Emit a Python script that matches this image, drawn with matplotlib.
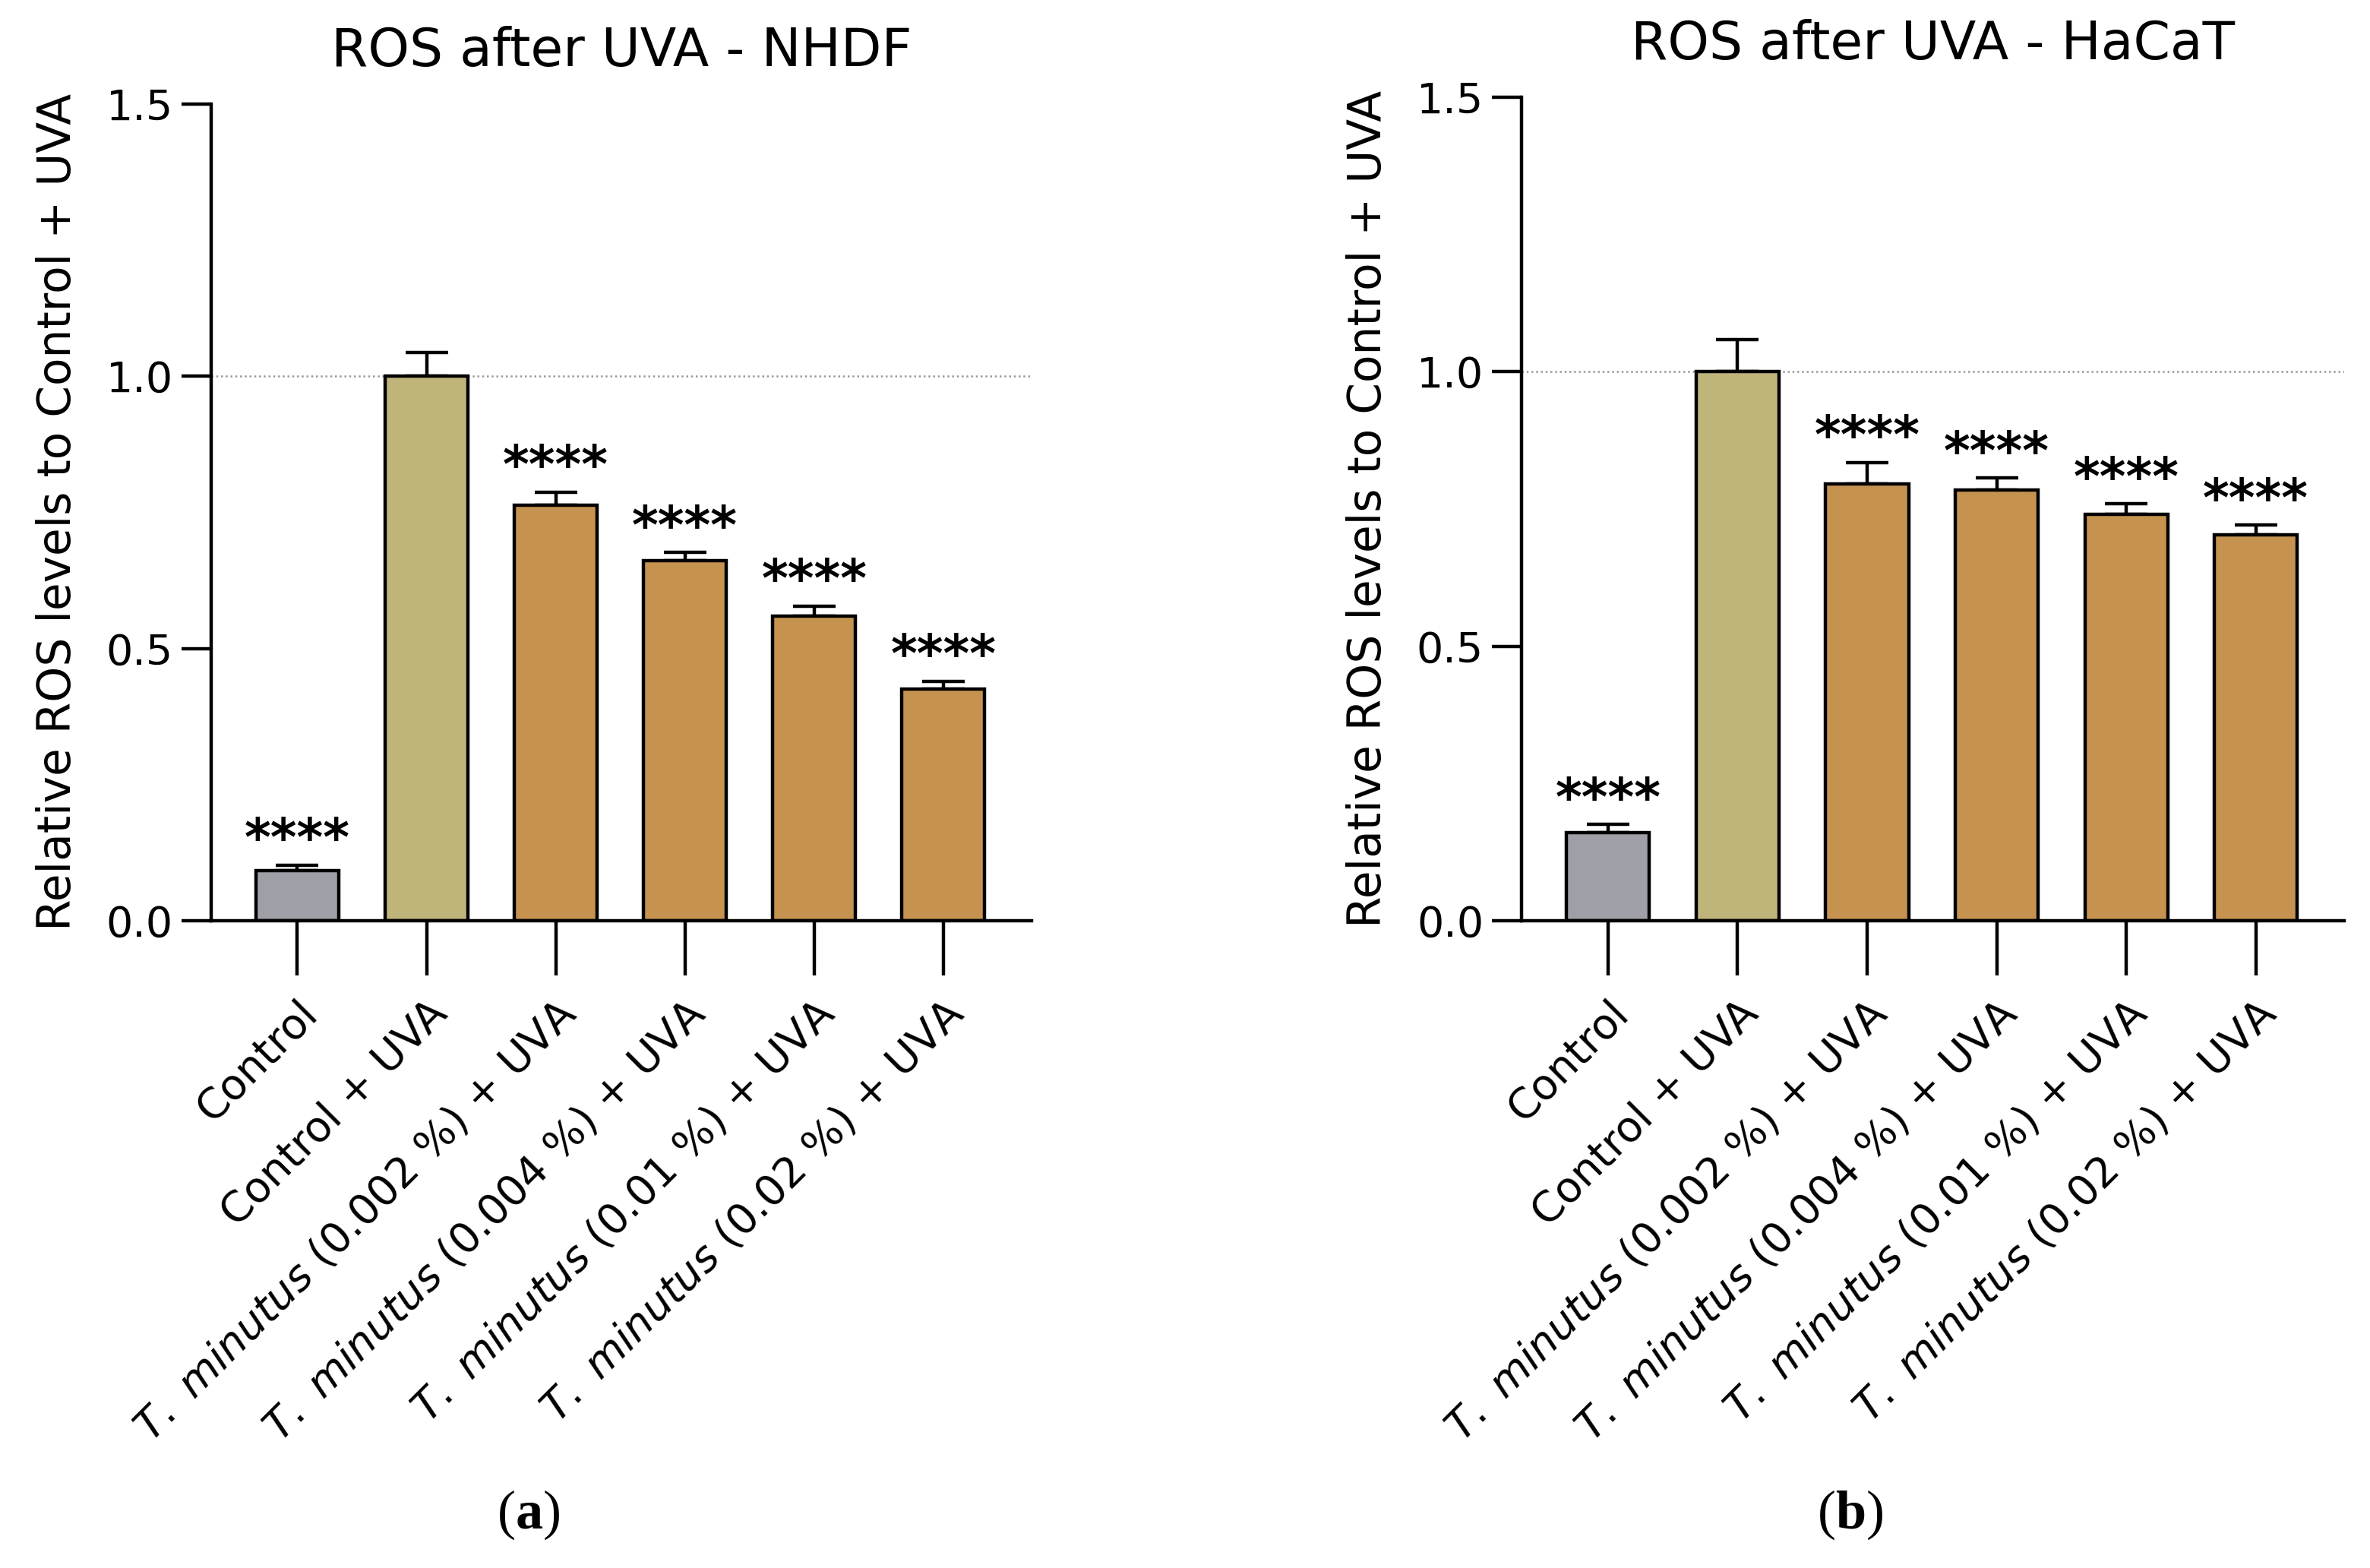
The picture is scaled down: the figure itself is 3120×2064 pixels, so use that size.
# libraries ----------------------
import numpy as np
import matplotlib.pyplot as plt

# data ---------------------------
groups = ['Control', 'Control + UVA',
          r'$\it{T.\ minutus}$ (0.002 %) + UVA',
          r'$\it{T.\ minutus}$ (0.004 %) + UVA',
          r'$\it{T.\ minutus}$ (0.01 %) + UVA',
          r'$\it{T.\ minutus}$ (0.02 %) + UVA']
nhdf_mean = [0.092, 1.0, 0.763, 0.661, 0.559, 0.426]
nhdf_err = [0.010, 0.044, 0.024, 0.015, 0.019, 0.014]
hacat_mean = [0.161, 1.0, 0.795, 0.784, 0.740, 0.702]
hacat_err = [0.014, 0.058, 0.039, 0.022, 0.019, 0.018]
stars = ['****', '', '****', '****', '****', '****']
bar_colors = ['#9f9fa7', '#bfb47a', '#c5934f', '#c5934f', '#c5934f', '#c5934f']

plt.rcParams['font.family'] = 'DejaVu Sans'
plt.rcParams['mathtext.fontset'] = 'custom'
plt.rcParams['mathtext.it'] = 'DejaVu Sans:italic'
plt.rcParams['mathtext.rm'] = 'DejaVu Sans'
plt.rcParams['mathtext.bf'] = 'Liberation Serif:bold'

fig = plt.figure(figsize=(15.6, 10.32), dpi=200)
ax1 = fig.add_axes([0.0891, 0.4128, 0.346, 0.521])
ax2 = fig.add_axes([0.642, 0.4128, 0.347, 0.5254])

def panel(ax, means, errs, title):
    x = np.arange(len(groups))
    ax.axhline(1.0, color='#999999', lw=0.9, ls=(0, (1, 1.5)), zorder=0)
    ax.bar(x, means, width=0.64, color=bar_colors, edgecolor='black',
           linewidth=1.6, zorder=2)
    ax.errorbar(x, means, yerr=[np.zeros(len(errs)), errs], fmt='none',
                ecolor='black', elinewidth=1.6, capsize=10, capthick=1.6, zorder=1)
    for xi, m, e, s in zip(x, means, errs, stars):
        if s:
            ax.text(xi, m + e - 0.002, s, ha='center', va='bottom',
                    fontsize=24, fontweight='bold')
    ax.set_xlim(-0.667, 5.68)
    ax.set_ylim(0, 1.5)
    ax.set_yticks([0, 0.5, 1.0, 1.5])
    ax.set_yticklabels(['0.0', '0.5', '1.0', '1.5'])
    ax.set_xticks(x)
    ax.set_xticklabels(groups, rotation=45, ha='right', rotation_mode='anchor')
    ax.spines['top'].set_visible(False)
    ax.spines['right'].set_visible(False)
    ax.spines['left'].set_linewidth(1.6)
    ax.spines['bottom'].set_linewidth(1.6)
    ax.tick_params(axis='y', length=14, width=1.6, labelsize=20, pad=4)
    ax.tick_params(axis='x', length=26, width=1.6, labelsize=20, pad=8)
    ax.set_ylabel('Relative ROS levels to Control + UVA', fontsize=21.5, labelpad=12)
    ax.set_title(title, fontsize=25, pad=18)

panel(ax1, nhdf_mean, nhdf_err, 'ROS after UVA - NHDF')
panel(ax2, hacat_mean, hacat_err, 'ROS after UVA - HaCaT')

fig.text(0.223, 0.034, r'($\mathbf{a}$)', family='Liberation Serif', fontsize=26,
         ha='center', va='center')
fig.text(0.7805, 0.034, r'($\mathbf{b}$)', family='Liberation Serif', fontsize=26,
         ha='center', va='center')

fig.savefig('out.png', dpi=200)
